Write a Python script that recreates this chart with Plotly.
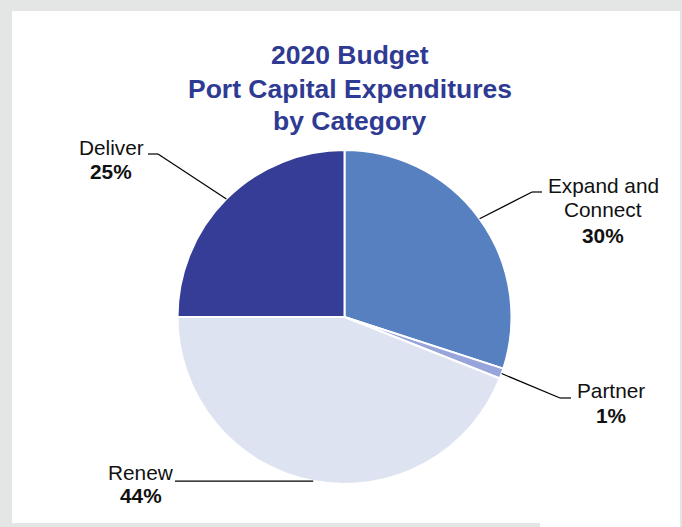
import math
import plotly.graph_objects as go

# Budget share by category (percent)
categories = ["Expand and Connect", "Partner", "Renew", "Deliver"]
shares = [30, 1, 44, 25]
slice_colors = ["#5680C0", "#97A5DA", "#DDE3F1", "#353D97"]

# Label text lines per category
label_lines = {
    "Expand and Connect": ["Expand and", "Connect"],
    "Partner": ["Partner"],
    "Renew": ["Renew"],
    "Deliver": ["Deliver"],
}

W, H = 682, 527
CX, CY, R = 344.5, 317.0, 167.0  # pie centre and radius in page pixels

TITLE_COLOR = "#2F3A93"
FONT = "Liberation Sans, Arial, sans-serif"


def px(x):
    return x / W


def py(y):
    return 1 - y / H


fig = go.Figure()
fig.add_trace(go.Pie(
    labels=categories,
    values=shares,
    sort=False,
    direction="clockwise",
    rotation=0,
    marker=dict(colors=slice_colors, line=dict(color="white", width=2)),
    textinfo="none",
    hoverinfo="label+percent",
    showlegend=False,
    domain=dict(x=[px(CX - R), px(CX + R)], y=[py(CY + R), py(CY - R)]),
))

# Point on the rim at the middle of each slice (clockwise from 12 o'clock)
total = sum(shares)
rim = {}
acc = 0
for name, v in zip(categories, shares):
    mid = (acc + v / 2) / total * 2 * math.pi
    rim[name] = (CX + R * math.sin(mid), CY - R * math.cos(mid))
    acc += v

# Label placement: text centre positions and leader elbow points (pixels)
label_pos = {
    "Expand and Connect": dict(x=603, ys=[185, 210], pct_y=235, elbow=(532, 192), end=(542, 192)),
    "Partner": dict(x=611, ys=[390], pct_y=415, elbow=(560, 398), end=(571, 398)),
    "Renew": dict(x=141, ys=[472], pct_y=495, elbow=None, end=(175, None)),
    "Deliver": dict(x=111, ys=[147], pct_y=171, elbow=(158, 154), end=(148, 154)),
}

shapes = [
    # white panel over the grey frame
    dict(type="rect", xref="paper", yref="paper", x0=px(12), x1=px(680), y0=py(523), y1=py(11),
         fillcolor="white", line=dict(width=0), layer="below"),
    dict(type="rect", xref="paper", yref="paper", x0=px(540), x1=px(680), y0=py(527), y1=py(523),
         fillcolor="white", line=dict(width=0), layer="below"),
]

annotations = []
for name, v in zip(categories, shares):
    lp = label_pos[name]
    sx, sy = rim[name]
    if lp["elbow"] is None:
        pts = [(sx, sy), (lp["end"][0], sy)]
    else:
        pts = [(sx, sy), lp["elbow"], lp["end"]]
    for (x0, y0), (x1, y1) in zip(pts[:-1], pts[1:]):
        shapes.append(dict(type="line", xref="paper", yref="paper",
                           x0=px(x0), y0=py(y0), x1=px(x1), y1=py(y1),
                           line=dict(color="black", width=1.2)))
    for line_text, y in zip(label_lines[name], lp["ys"]):
        annotations.append(dict(text=line_text, x=px(lp["x"]), y=py(y), xref="paper", yref="paper",
                                xanchor="center", yanchor="middle", showarrow=False,
                                font=dict(family=FONT, size=20.8, color="#111111")))
    annotations.append(dict(text=f"<b>{round(v / total * 100)}%</b>", x=px(lp["x"]), y=py(lp["pct_y"]),
                            xref="paper", yref="paper", xanchor="center", yanchor="middle",
                            showarrow=False, font=dict(family=FONT, size=20.8, color="#111111")))

# Title, one annotation per line
title_lines = ["2020 Budget", "Port Capital Expenditures", "by Category"]
title_ys = [55, 89, 121]
for t, y in zip(title_lines, title_ys):
    annotations.append(dict(text=f"<b>{t}</b>", x=px(349.5), y=py(y), xref="paper", yref="paper",
                            xanchor="center", yanchor="middle", showarrow=False,
                            font=dict(family=FONT, size=26.5, color=TITLE_COLOR)))

fig.update_layout(
    width=W, height=H,
    margin=dict(l=0, r=0, t=0, b=0),
    paper_bgcolor="#E4E6E6",
    plot_bgcolor="white",
    shapes=shapes,
    annotations=annotations,
)

fig.write_html("out.html", config=dict(displayModeBar=False))
